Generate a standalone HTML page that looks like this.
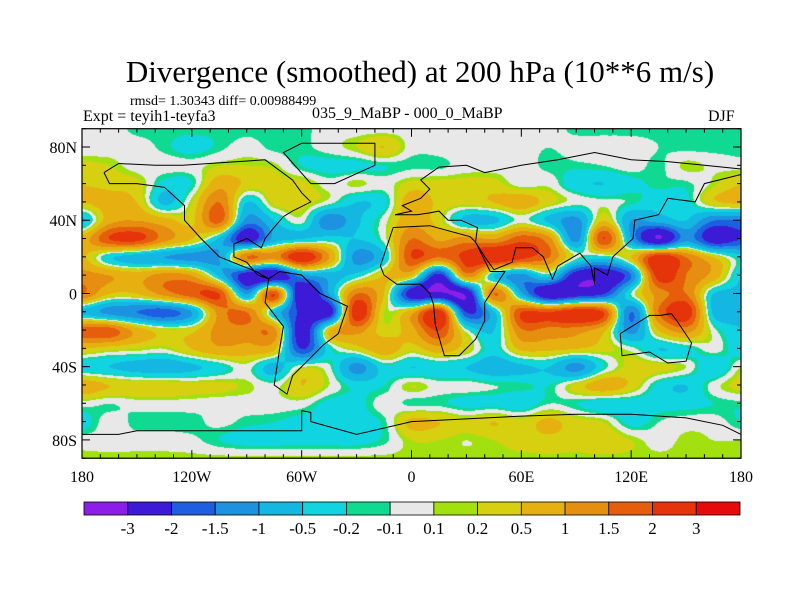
<!DOCTYPE html>
<html><head><meta charset="utf-8">
<style>
body{margin:0;background:#fff;}
#wrap{position:relative;width:800px;height:600px;overflow:hidden;background:#fff;font-family:"Liberation Serif",serif;color:#000;}
.t{position:absolute;white-space:nowrap;}
canvas{position:absolute;left:82px;top:129px;}
svg{position:absolute;left:0;top:0;}
</style></head><body>
<div id="wrap">
<div class="t" style="left:0;width:840px;text-align:center;top:54px;font-size:31px;">Divergence (smoothed) at 200 hPa (10**6 m/s)</div>
<div class="t" style="left:130px;top:94px;font-size:14px;">rmsd= 1.30343 diff= 0.00988499</div>
<div class="t" style="left:83px;top:108px;font-size:16px;">Expt = teyih1-teyfa3</div>
<div class="t" style="left:312px;top:105px;font-size:16px;">035_9_MaBP - 000_0_MaBP</div>
<div class="t" style="left:708px;top:108px;font-size:16px;">DJF</div>
<canvas id="cv" width="659" height="330"></canvas>
<svg id="sv" width="800" height="600"></svg>
</div>
<script>
const lons=[-180,-165,-150,-135,-120,-105,-90,-75,-60,-45,-30,-15,0,15,30,45,60,75,90,105,120,135,150,165,180];
const lats=[90,80,70,60,50,40,30,20,10,0,-10,-20,-30,-40,-50,-60,-70,-80,-90];
const field=[
[0,0,-0.15,-0.15,-0.15,-0.15,-0.15,-0.15,-0.15,0,0,0,0,0,0,0,0,0,-0.15,-0.15,-0.15,-0.15,-0.15,-0.15,-0.15],
[-0.05,0,0,-0.15,-0.3,-0.15,0,-0.15,-0.15,0,0.2,0.5,0,0,0.1,0,0,-0.1,0,0,0,-0.1,-0.15,-0.15,-0.15],
[0.3,0.2,0,0,0,0.2,0.2,0.15,-0.2,-0.3,-0.3,-0.2,-0.15,-0.15,0,0,0,-0.15,-0.15,-0.1,0,-0.15,0.15,0.05,0],
[0.5,0.4,0.3,-0.3,-0.2,0.8,0.4,0.3,0.3,0,0.15,0,0.3,0.3,0.3,0.3,0,0.05,-0.4,-0.5,-0.3,-0.15,-0.15,0.15,0.5],
[0.5,0.7,0.5,-0.6,0.2,1.5,-0.5,0.3,0.3,0,-0.5,-0.3,0.8,0.4,0.3,0.5,0.8,0.3,0,0,-0.15,-0.4,-0.3,0.4,0.6],
[-0.6,0.8,1.0,0.7,0.4,1.7,-1.2,-0.5,0,-1.4,-0.6,0,0.8,0.3,-0.6,-0.6,0,-0.6,-1.2,0.5,-1.0,-0.8,-0.5,-1.5,-1.5],
[0.7,2,2.2,1.2,0.5,-0.6,-2.5,-0.8,-0.5,-0.3,-0.5,0,1.5,0.9,1.2,1.0,1.8,1.2,-1.2,2,-1,-3,-1.2,-2.5,-2],
[0.6,-0.4,-0.8,-1,-1.2,-1,1.5,1.2,2.6,1.0,-1.2,-0.5,2,1.5,2.2,2.8,2.2,1.5,0,-0.3,0.5,2.5,1.5,0.5,-0.3],
[1.2,1.0,0.8,1.2,1.0,-0.6,-2.5,-2.8,-1.2,-0.8,-0.3,0.5,0.5,-2.3,1.2,-0.5,-1.2,-0.3,-2.5,-2.7,-1.5,2.3,1.5,0.8,-0.5],
[1.5,0.5,0.5,1.2,1.8,2,-1,2,-2.8,-1,1.5,0.5,-2.5,-2.8,-2.8,1.5,-0.8,-2.8,-2.5,-2,-0.1,1.2,1.5,-0.5,-0.6],
[-0.6,-1.2,-1.5,-1.8,-1.0,1.2,1.5,-0.5,-2.2,-2.5,2.5,0.2,0.8,2.5,-2,-0.6,2,2,2.5,2.0,-1.5,1.5,2.5,-0.6,-0.6],
[1.8,1.8,0.8,0.3,0.4,1.2,1.3,1.2,-2.5,0.5,1.2,0.3,0.8,2,0,-0.5,1.4,1.3,1.2,0.6,-1.2,0.5,1.2,0,-0.5],
[0.5,0.3,0.2,0.1,0.5,0.9,0.8,0.6,-2,-0.3,0.3,0.8,0.3,0.8,0.3,-0.3,0.6,0.6,0.5,0.3,0,-0.5,-0.3,0,-0.4],
[-0.4,-0.5,-0.7,-0.8,-0.6,-0.3,0,-0.7,0.1,-0.05,-1.2,-0.3,-0.5,-0.4,-0.5,-0.8,-0.6,-0.5,-1.2,-0.2,0.3,0.3,0.1,-0.5,0.1],
[0.8,0.5,0.4,0.4,0.3,0.3,0.15,0,0.5,0.1,-0.3,-0.2,0.2,0,0,-0.1,-0.15,-0.2,0.3,0.8,0.4,-0.3,-0.5,0,0.3],
[0,-0.1,0,0,0,-0.05,0,0,0,-0.3,-0.3,0,-0.15,-0.15,-0.3,-0.3,-0.4,-0.1,-0.2,-0.4,-0.4,-0.3,-0.3,-0.2,-0.15],
[-0.3,0,-0.15,-0.15,-0.15,-0.05,-0.15,-0.2,-0.3,-0.3,-0.3,-0.15,0.6,0.5,0.3,0.5,0.3,0.6,0.3,0.2,-0.3,-0.1,0,0,-0.2],
[0,0,0,0,-0.05,-0.2,-0.3,-0.3,-0.3,-0.3,-0.3,-0.15,0.2,0.2,0.1,0.2,0.3,0.4,0.3,0.4,0.2,0,0.15,0.1,0.1],
[0.15,0.15,0.15,0.15,0.15,0.15,0.15,0.15,0.15,0.15,0.15,0.15,0.15,0.15,0.15,0.15,0.15,0.15,0.15,0.15,0.15,0.15,0.15,0.15,0.15]
];
const levels=[-3,-2,-1.5,-1,-0.5,-0.2,-0.1,0.1,0.2,0.5,1,1.5,2,3];
const levelLabels=["-3","-2","-1.5","-1","-0.5","-0.2","-0.1","0.1","0.2","0.5","1","1.5","2","3"];
const colors=["#8c1ee8","#3c1ad6","#1e5ee0","#1c92e0","#14b6e2","#10d4e0","#10da92","#e8e8e8","#a2e010","#d6d010","#e6b010","#e68e10","#e65e0c","#e6340a","#e60a0a"];
const xTickVals=[-180,-120,-60,0,60,120,180];
const xTickLabels=["180","120W","60W","0","60E","120E","180"];
const yTickVals=[80,40,0,-40,-80];
const yTickLabels=["80N","40N","0","40S","80S"];
const coasts=[
[[-168,66],[-160,71],[-140,70],[-125,70],[-95,72],[-80,73],[-65,62],[-60,55],[-55,50],[-65,45],[-70,42],[-76,35],[-80,30],[-82,25],[-90,30],[-97,27],[-97,20],[-90,17],[-84,10],[-78,8],[-85,12],[-105,20],[-115,30],[-124,40],[-124,48],[-135,58],[-150,60],[-165,60],[-168,66]],
[[-78,8],[-72,12],[-60,10],[-50,0],[-35,-7],[-40,-22],[-48,-28],[-58,-38],[-65,-45],[-68,-55],[-75,-50],[-72,-30],[-70,-18],[-80,-5],[-78,8]],
[[-55,60],[-42,60],[-20,70],[-20,82],[-60,82],[-70,77],[-55,60]],
[[-10,36],[-17,15],[-15,10],[-8,5],[5,5],[10,0],[12,-6],[13,-17],[18,-34],[26,-34],[35,-25],[40,-15],[40,-5],[51,12],[43,12],[35,28],[32,31],[10,37],[-10,36]],
[[-9,43],[0,45],[-5,48],[5,52],[10,57],[5,62],[15,69],[30,70],[40,66],[60,70],[80,73],[100,77],[120,73],[140,72],[160,70],[180,68]],
[[180,65],[160,60],[155,50],[140,52],[135,43],[122,40],[121,30],[110,20],[107,10],[100,14],[100,5],[98,15],[92,22],[80,15],[77,8],[72,20],[66,25],[57,25],[55,17],[45,13],[40,20],[35,28],[36,36],[27,40],[20,40],[15,45],[10,44],[3,43],[-9,43]],
[[114,-22],[115,-34],[130,-32],[140,-38],[150,-37],[153,-27],[145,-15],[142,-11],[136,-12],[130,-12],[114,-22]],
[[-180,-77],[-160,-77],[-150,-75],[-60,-75],[-60,-64],[-55,-65],[-55,-70],[-30,-77],[0,-70],[60,-67],[90,-66],[120,-66],[150,-68],[170,-72],[180,-77]]
];
const X0=82,Y0=128.7,S=659/360;
function xs(lon){return X0+(lon+180)*S;}
function ys(lat){return Y0+(90-lat)*S;}
function colorFor(v){let i=0;while(i<levels.length&&v>=levels[i])i++;return colors[i];}
function cr(p0,p1,p2,p3,t){return 0.5*((2*p1)+(-p0+p2)*t+(2*p0-5*p1+4*p2-p3)*t*t+(-p0+3*p1-3*p2+p3)*t*t*t);}
function sample(lon,lat){
  const nx=lons.length,ny=lats.length;
  const fx=(lon-lons[0])/(lons[1]-lons[0]),fy=(lats[0]-lat)/(lats[0]-lats[1]);
  let ix=Math.floor(fx),iy=Math.floor(fy);ix=Math.min(ix,nx-2);iy=Math.min(iy,ny-2);
  const tx=fx-ix,ty=fy-iy;const rows=[];
  for(let j=-1;j<=2;j++){const r=field[Math.max(0,Math.min(ny-1,iy+j))];
    const g=k=>r[Math.max(0,Math.min(nx-1,ix+k))];
    rows.push(cr(g(-1),g(0),g(1),g(2),tx));}
  return cr(rows[0],rows[1],rows[2],rows[3],ty);
}
const cv=document.getElementById('cv'),ctx=cv.getContext('2d');
const img=ctx.createImageData(cv.width,cv.height);
const rgb=colors.map(c=>[parseInt(c.substr(1,2),16),parseInt(c.substr(3,2),16),parseInt(c.substr(5,2),16)]);
for(let py=0;py<cv.height;py++){for(let px=0;px<cv.width;px++){
  const lon=(px+0.5)/S-180,lat=90-(py+0.3)/S;const v=sample(lon,lat);
  let i=0;while(i<levels.length&&v>=levels[i])i++;const c=rgb[i];const o=(py*cv.width+px)*4;
  img.data[o]=c[0];img.data[o+1]=c[1];img.data[o+2]=c[2];img.data[o+3]=255;}}
ctx.putImageData(img,0,0);
const sv=document.getElementById('sv');const NS='http://www.w3.org/2000/svg';
function mk(tag,attrs){const e=document.createElementNS(NS,tag);for(const k in attrs)e.setAttribute(k,attrs[k]);sv.appendChild(e);return e;}
coasts.forEach(c=>{const p=mk('polyline',{points:c.map(q=>xs(q[0]).toFixed(1)+','+ys(q[1]).toFixed(1)).join(' '),fill:'none',stroke:'#000','stroke-width':1});

});
const fr=mk('rect',{x:xs(-180),y:ys(90),width:659,height:ys(-90)-ys(90),fill:'none',stroke:'#000','stroke-width':1.2});


for(let lon=-180;lon<=180;lon+=10){const L=(lon%60===0)?8:4;
  mk('line',{x1:xs(lon),x2:xs(lon),y1:ys(-90),y2:ys(-90)-L,stroke:'#000'});
  mk('line',{x1:xs(lon),x2:xs(lon),y1:ys(90),y2:ys(90)+L,stroke:'#000'});}
for(let lat=-90;lat<=90;lat+=10){const L=(lat%40===0)?8:4;
  mk('line',{x1:xs(-180),x2:xs(-180)+L,y1:ys(lat),y2:ys(lat),stroke:'#000'});
  mk('line',{x1:xs(180),x2:xs(180)-L,y1:ys(lat),y2:ys(lat),stroke:'#000'});}
xTickVals.forEach((v,i)=>{const t=mk('text',{x:xs(v),y:482,'text-anchor':'middle','font-size':16,'font-family':'Liberation Serif, serif'});t.textContent=xTickLabels[i];

});
yTickVals.forEach((v,i)=>{const t=mk('text',{x:77,y:ys(v)+6,'text-anchor':'end','font-size':16,'font-family':'Liberation Serif, serif'});t.textContent=yTickLabels[i];

});
const cbx=84,cbw=656/colors.length;
colors.forEach((c,i)=>{const r=mk('rect',{x:cbx+i*cbw,y:502,width:cbw,height:13,fill:c,stroke:'#000','stroke-width':0.8});

});
levelLabels.forEach((l,i)=>{const t=mk('text',{x:cbx+(i+1)*cbw,y:534,'text-anchor':'middle','font-size':17,'font-family':'Liberation Serif, serif'});t.textContent=l;

});
</script>
</body></html>
